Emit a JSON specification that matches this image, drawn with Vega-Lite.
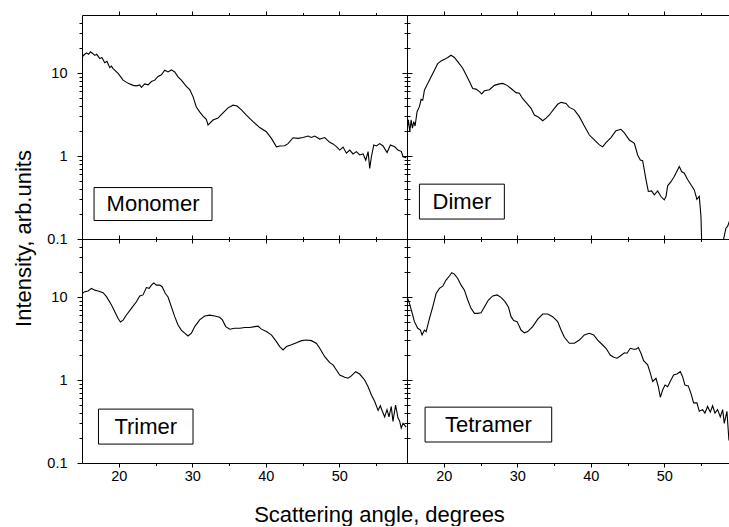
{
"$schema": "https://vega.github.io/schema/vega-lite/v6.json",
"autosize": {"type": "pad"},
"padding": {"left": 11, "top": 10, "right": 0, "bottom": 0},
"background": "white",
"config": {
  "view": {"stroke": "black", "strokeWidth": 1},
  "axis": {"grid": false, "domain": false, "tickColor": "black", "tickWidth": 1, "labelFont": "Liberation Sans", "labelFontSize": 14.5, "labelColor": "black", "titleFont": "Liberation Sans", "titleFontSize": 22, "titleFontWeight": "normal", "titleColor": "black"}
},
"datasets": {
  "monomer": [
{"a":15.02,"i":15.7},{"a":15.3,"i":16.6},{"a":15.61,"i":17.5},{"a":15.9,"i":16.8},{"a":16.15,"i":18},{"a":16.45,"i":17.2},{"a":16.74,"i":16.3},{"a":17.0,"i":16.8},{"a":17.42,"i":14.9},{"a":17.7,"i":15.4},{"a":18.10,"i":13.3},{"a":18.4,"i":13.8},{"a":18.78,"i":11.6},{"a":19.0,"i":12.1},{"a":19.23,"i":11.3},{"a":19.91,"i":9.9},{"a":20.59,"i":8.2},{"a":21.27,"i":7.5},{"a":21.95,"i":7.1},{"a":22.40,"i":7.0},{"a":22.85,"i":7.2},{"a":23.08,"i":6.7},{"a":23.53,"i":7.4},{"a":23.99,"i":7.2},{"a":24.44,"i":7.9},{"a":24.89,"i":8.2},{"a":25.34,"i":9.1},{"a":25.80,"i":9.5},{"a":26.25,"i":10.8},{"a":26.70,"i":10.3},{"a":27.16,"i":10.9},{"a":27.61,"i":10.3},{"a":28.06,"i":9.0},{"a":28.51,"i":8.2},{"a":29.19,"i":6.9},{"a":29.65,"i":6.3},{"a":30.10,"i":5.2},{"a":30.55,"i":3.9},{"a":31.00,"i":3.4},{"a":31.46,"i":3.03},{"a":31.91,"i":2.76},{"a":32.14,"i":2.37},{"a":32.82,"i":2.71},{"a":33.50,"i":2.86},{"a":34.18,"i":3.3},{"a":34.86,"i":3.8},{"a":35.54,"i":4.1},{"a":36.09,"i":4.0},{"a":36.68,"i":3.6},{"a":37.36,"i":3.1},{"a":38.26,"i":2.6},{"a":39.17,"i":2.2},{"a":40.07,"i":1.96},{"a":40.76,"i":1.63},{"a":41.44,"i":1.29},{"a":41.89,"i":1.32},{"a":42.57,"i":1.33},{"a":43.02,"i":1.41},{"a":43.70,"i":1.66},{"a":44.38,"i":1.63},{"a":45.06,"i":1.67},{"a":45.74,"i":1.74},{"a":46.19,"i":1.67},{"a":46.65,"i":1.74},{"a":47.33,"i":1.6},{"a":48.01,"i":1.67},{"a":48.69,"i":1.46},{"a":49.14,"i":1.4},{"a":49.60,"i":1.3},{"a":50.05,"i":1.18},{"a":50.50,"i":1.28},{"a":50.96,"i":1.08},{"a":51.41,"i":1.18},{"a":51.86,"i":1.06},{"a":52.32,"i":1.13},{"a":52.77,"i":1.03},{"a":53.23,"i":1.06},{"a":53.59,"i":0.89},{"a":53.91,"i":1.13},{"a":54.13,"i":0.71},{"a":54.36,"i":0.98},{"a":54.68,"i":1.36},{"a":55.04,"i":1.32},{"a":55.49,"i":1.41},{"a":55.94,"i":1.32},{"a":56.49,"i":1.1},{"a":56.94,"i":1.36},{"a":57.53,"i":1.29},{"a":57.98,"i":1.18},{"a":58.44,"i":1.13},{"a":58.66,"i":0.98},{"a":59.1,"i":0.95}
  ],
  "dimer": [
{"a":15.01,"i":2.06},{"a":15.19,"i":2.72},{"a":15.38,"i":1.96},{"a":15.56,"i":2.72},{"a":15.74,"i":2.16},{"a":15.92,"i":2.6},{"a":16.10,"i":2.3},{"a":16.37,"i":3.42},{"a":16.69,"i":3.93},{"a":16.92,"i":4.81},{"a":17.14,"i":4.7},{"a":17.37,"i":6.2},{"a":17.82,"i":7.5},{"a":18.28,"i":9.0},{"a":18.73,"i":10.8},{"a":19.18,"i":13.0},{"a":19.64,"i":14.0},{"a":20.09,"i":14.6},{"a":20.54,"i":15.4},{"a":20.99,"i":16.4},{"a":21.45,"i":15.4},{"a":21.90,"i":13.7},{"a":22.58,"i":11.4},{"a":23.03,"i":9.5},{"a":23.49,"i":7.9},{"a":23.94,"i":6.5},{"a":24.39,"i":6.4},{"a":24.85,"i":5.96},{"a":25.16,"i":5.6},{"a":25.53,"i":6.1},{"a":26.21,"i":6.3},{"a":26.88,"i":7.1},{"a":27.56,"i":7.4},{"a":28.02,"i":7.5},{"a":28.61,"i":7.1},{"a":29.15,"i":6.5},{"a":29.83,"i":5.8},{"a":30.28,"i":5.7},{"a":30.74,"i":4.9},{"a":31.42,"i":4.2},{"a":31.87,"i":3.75},{"a":32.32,"i":3.12},{"a":32.78,"i":2.98},{"a":33.23,"i":2.77},{"a":33.46,"i":2.66},{"a":33.91,"i":2.86},{"a":34.36,"i":3.12},{"a":35.04,"i":3.75},{"a":35.49,"i":4.2},{"a":35.95,"i":4.43},{"a":36.63,"i":4.3},{"a":37.08,"i":3.85},{"a":37.76,"i":3.6},{"a":38.44,"i":2.98},{"a":39.12,"i":2.3},{"a":39.80,"i":1.79},{"a":40.48,"i":1.56},{"a":41.16,"i":1.36},{"a":41.61,"i":1.29},{"a":42.06,"i":1.45},{"a":42.74,"i":1.67},{"a":43.42,"i":2.02},{"a":44.10,"i":2.1},{"a":44.56,"i":1.9},{"a":45.24,"i":1.56},{"a":45.92,"i":1.42},{"a":46.37,"i":1.03},{"a":46.73,"i":0.897},{"a":47.05,"i":0.88},{"a":47.50,"i":0.52},{"a":47.82,"i":0.374},{"a":48.27,"i":0.38},{"a":48.63,"i":0.34},{"a":49.09,"i":0.38},{"a":49.54,"i":0.325},{"a":49.99,"i":0.296},{"a":50.22,"i":0.325},{"a":50.45,"i":0.437},{"a":50.90,"i":0.49},{"a":51.35,"i":0.565},{"a":52.03,"i":0.745},{"a":52.35,"i":0.65},{"a":52.71,"i":0.62},{"a":53.16,"i":0.52},{"a":53.62,"i":0.45},{"a":54.07,"i":0.39},{"a":54.43,"i":0.30},{"a":54.75,"i":0.325},{"a":54.98,"i":0.187},{"a":55.16,"i":0.05},{"a":56.34,"i":0.04},{"a":57.70,"i":0.05},{"a":58.06,"i":0.1},{"a":58.37,"i":0.135},{"a":58.60,"i":0.142},{"a":58.92,"i":0.17},{"a":59.2,"i":0.19}
  ],
  "trimer": [
{"a":15.02,"i":11.0},{"a":15.38,"i":11.6},{"a":15.83,"i":11.8},{"a":16.29,"i":12.7},{"a":16.74,"i":12.1},{"a":17.19,"i":11.8},{"a":17.87,"i":11.3},{"a":18.33,"i":10.1},{"a":19.01,"i":8.0},{"a":19.46,"i":6.65},{"a":19.91,"i":5.5},{"a":20.23,"i":5.0},{"a":20.59,"i":5.27},{"a":21.04,"i":6.07},{"a":21.72,"i":7.3},{"a":22.40,"i":8.77},{"a":22.85,"i":10.3},{"a":23.30,"i":10.6},{"a":23.76,"i":13.0},{"a":24.13,"i":12.7},{"a":24.44,"i":13.9},{"a":24.76,"i":14.8},{"a":25.12,"i":13.9},{"a":25.57,"i":13.9},{"a":25.89,"i":13.3},{"a":26.34,"i":11.0},{"a":26.70,"i":10.0},{"a":27.16,"i":7.6},{"a":27.61,"i":5.8},{"a":28.06,"i":4.6},{"a":28.51,"i":4.0},{"a":28.97,"i":3.67},{"a":29.42,"i":3.39},{"a":29.88,"i":3.67},{"a":30.33,"i":4.4},{"a":31.00,"i":5.3},{"a":31.69,"i":5.9},{"a":32.37,"i":6.05},{"a":33.05,"i":5.9},{"a":33.73,"i":5.7},{"a":34.09,"i":5.3},{"a":34.55,"i":4.4},{"a":35.09,"i":4.09},{"a":35.77,"i":4.2},{"a":36.45,"i":4.2},{"a":37.13,"i":4.3},{"a":37.81,"i":4.3},{"a":38.49,"i":4.4},{"a":38.94,"i":4.45},{"a":39.40,"i":4.1},{"a":40.07,"i":3.83},{"a":40.76,"i":3.5},{"a":41.44,"i":2.9},{"a":41.89,"i":2.53},{"a":42.35,"i":2.3},{"a":42.80,"i":2.53},{"a":43.49,"i":2.66},{"a":44.17,"i":2.82},{"a":44.85,"i":2.98},{"a":45.53,"i":3.03},{"a":46.21,"i":2.98},{"a":46.89,"i":2.76},{"a":47.33,"i":2.41},{"a":48.01,"i":1.91},{"a":48.69,"i":1.62},{"a":49.14,"i":1.52},{"a":49.60,"i":1.32},{"a":50.05,"i":1.15},{"a":50.73,"i":1.08},{"a":51.18,"i":1.05},{"a":51.63,"i":1.12},{"a":52.22,"i":1.26},{"a":52.76,"i":1.18},{"a":53.44,"i":1.0},{"a":53.91,"i":0.83},{"a":54.36,"i":0.66},{"a":54.81,"i":0.55},{"a":55.27,"i":0.43},{"a":55.57,"i":0.49},{"a":55.85,"i":0.42},{"a":56.16,"i":0.36},{"a":56.48,"i":0.44},{"a":56.75,"i":0.36},{"a":57.06,"i":0.48},{"a":57.29,"i":0.317},{"a":57.65,"i":0.50},{"a":57.97,"i":0.35},{"a":58.20,"i":0.32},{"a":58.42,"i":0.264},{"a":58.66,"i":0.30},{"a":59.1,"i":0.27}
  ],
  "tetramer": [
{"a":15.01,"i":10.1},{"a":15.33,"i":8.4},{"a":15.65,"i":6.65},{"a":16.01,"i":5.05},{"a":16.46,"i":4.2},{"a":16.83,"i":4.0},{"a":17.05,"i":3.49},{"a":17.37,"i":4.0},{"a":17.60,"i":3.83},{"a":18.05,"i":5.5},{"a":18.50,"i":7.6},{"a":18.96,"i":11.0},{"a":19.41,"i":12.7},{"a":19.86,"i":13.5},{"a":20.31,"i":16.0},{"a":20.77,"i":17.9},{"a":21.09,"i":19.6},{"a":21.45,"i":18.9},{"a":21.90,"i":16.7},{"a":22.36,"i":13.9},{"a":22.81,"i":12.1},{"a":23.26,"i":9.2},{"a":23.71,"i":7.3},{"a":24.17,"i":6.35},{"a":24.62,"i":6.35},{"a":25.07,"i":6.45},{"a":25.53,"i":7.6},{"a":26.07,"i":9.2},{"a":26.66,"i":10.3},{"a":27.25,"i":10.6},{"a":27.79,"i":9.9},{"a":28.33,"i":8.8},{"a":28.79,"i":7.6},{"a":29.15,"i":5.8},{"a":29.51,"i":5.2},{"a":29.97,"i":5.05},{"a":30.51,"i":4.0},{"a":30.96,"i":3.7},{"a":31.42,"i":3.83},{"a":32.09,"i":4.4},{"a":32.78,"i":5.4},{"a":33.46,"i":6.24},{"a":34.13,"i":6.24},{"a":34.81,"i":5.8},{"a":35.49,"i":5.05},{"a":35.95,"i":4.0},{"a":36.40,"i":3.27},{"a":37.08,"i":2.77},{"a":37.76,"i":2.77},{"a":38.44,"i":3.03},{"a":39.12,"i":3.49},{"a":39.80,"i":3.66},{"a":40.39,"i":3.49},{"a":40.93,"i":3.03},{"a":41.61,"i":2.64},{"a":42.06,"i":2.41},{"a":42.65,"i":2.0},{"a":43.11,"i":1.88},{"a":43.56,"i":1.83},{"a":44.01,"i":1.95},{"a":44.56,"i":2.13},{"a":44.92,"i":2.1},{"a":45.37,"i":2.41},{"a":45.82,"i":2.35},{"a":46.14,"i":2.35},{"a":46.46,"i":2.46},{"a":46.82,"i":2.1},{"a":47.18,"i":1.71},{"a":47.73,"i":1.52},{"a":48.09,"i":1.21},{"a":48.41,"i":0.96},{"a":48.86,"i":1.05},{"a":49.18,"i":0.83},{"a":49.45,"i":0.62},{"a":49.77,"i":0.76},{"a":50.09,"i":0.87},{"a":50.45,"i":0.83},{"a":50.90,"i":1.0},{"a":51.26,"i":1.15},{"a":51.71,"i":1.18},{"a":52.17,"i":1.26},{"a":52.48,"i":1.1},{"a":52.80,"i":0.87},{"a":53.25,"i":0.85},{"a":53.62,"i":0.69},{"a":53.98,"i":0.53},{"a":54.43,"i":0.53},{"a":54.75,"i":0.42},{"a":55.20,"i":0.44},{"a":55.52,"i":0.40},{"a":55.88,"i":0.48},{"a":56.25,"i":0.41},{"a":56.56,"i":0.49},{"a":56.88,"i":0.40},{"a":57.24,"i":0.44},{"a":57.61,"i":0.36},{"a":57.93,"i":0.44},{"a":58.15,"i":0.30},{"a":58.51,"i":0.42},{"a":58.78,"i":0.19},{"a":59.1,"i":0.17}
  ]
},
"concat": [
  {
    "width": 325, "height": 224,
    "layer": [
      {"data": {"name": "monomer"}, "mark": {"type": "line", "clip": true, "color": "black", "strokeWidth": 1.1},
       "encoding": {
         "x": {"field": "a", "type": "quantitative", "scale": {"domain": [15, 59.2], "nice": false, "zero": false}, "axis": {"orient": "bottom", "values": [20, 30, 40, 50], "tickSize": 4, "labels": false, "title": null}},
         "y": {"field": "i", "type": "quantitative", "scale": {"type": "log", "domain": [0.1, 50], "nice": false}, "axis": {"orient": "left", "values": [0.1, 1, 10], "format": "~g", "tickSize": 5, "labelPadding": 10, "title": "Intensity, arb.units", "titleX": -52, "titleY": 223, "titleAngle": -90, "titleAlign": "center", "titleBaseline": "alphabetic"}}}},
      {"data": {"values": [{"label": "Monomer", "x1": 16.64, "x2": 32.68, "y1": 0.167, "y2": 0.417}]},
       "mark": {"type": "rect", "fill": "white", "stroke": "black", "strokeWidth": 1},
       "encoding": {
         "x": {"field": "x1", "type": "quantitative", "scale": {"domain": [15, 59.2], "nice": false, "zero": false}, "axis": {"orient": "bottom", "values": [25, 35, 45, 55], "tickSize": 2.5, "labels": false, "title": null}},
         "x2": {"field": "x2"},
         "y": {"field": "y1", "type": "quantitative", "scale": {"type": "log", "domain": [0.1, 50], "nice": false}, "axis": {"orient": "left", "values": [0.2,0.3,0.4,0.5,0.6,0.7,0.8,0.9,2,3,4,5,6,7,8,9,20,30,40], "tickSize": 3, "labels": false, "title": null}},
         "y2": {"field": "y2"}}},
      {"data": {"values": [{"label": "Monomer", "xm": 24.66, "ym": 0.264}]},
       "mark": {"type": "text", "font": "Liberation Sans", "fontSize": 22, "color": "black", "align": "center", "baseline": "middle"},
       "encoding": {
         "x": {"field": "xm", "type": "quantitative", "scale": {"domain": [15, 59.2], "nice": false, "zero": false}, "axis": {"orient": "top", "values": [20, 30, 40, 50], "tickSize": 4, "labels": false, "title": null}},
         "y": {"field": "ym", "type": "quantitative", "scale": {"type": "log", "domain": [0.1, 50], "nice": false}, "axis": {"orient": "right", "values": [0.1, 1, 10], "tickSize": 5, "labels": false, "title": null}},
         "text": {"field": "label"}}},
      {"data": {"values": [{"xm": 24.66, "ym": 0.264}]},
       "mark": {"type": "point", "opacity": 0},
       "encoding": {
         "x": {"field": "xm", "type": "quantitative", "scale": {"domain": [15, 59.2], "nice": false, "zero": false}, "axis": {"orient": "top", "values": [25, 35, 45, 55], "tickSize": 2.5, "labels": false, "title": null}},
         "y": {"field": "ym", "type": "quantitative", "scale": {"type": "log", "domain": [0.1, 50], "nice": false}, "axis": {"orient": "right", "values": [0.2,0.3,0.4,0.5,0.6,0.7,0.8,0.9,2,3,4,5,6,7,8,9,20,30,40], "tickSize": 3, "labels": false, "title": null}}}}
    ],
    "resolve": {"axis": {"x": "independent", "y": "independent"}}
  },
  {
    "width": 325, "height": 224,
    "layer": [
      {"data": {"name": "dimer"}, "mark": {"type": "line", "clip": true, "color": "black", "strokeWidth": 1.1},
       "encoding": {
         "x": {"field": "a", "type": "quantitative", "scale": {"domain": [15, 59.2], "nice": false, "zero": false}, "axis": {"orient": "bottom", "values": [20, 30, 40, 50], "tickSize": 4, "labels": false, "title": null}},
         "y": {"field": "i", "type": "quantitative", "scale": {"type": "log", "domain": [0.1, 50], "nice": false}, "axis": {"orient": "left", "values": [0.1, 1, 10], "tickSize": 5, "labels": false, "title": null}}}},
      {"data": {"values": [{"label": "Dimer", "x1": 16.69, "x2": 28.24, "y1": 0.174, "y2": 0.458}]},
       "mark": {"type": "rect", "fill": "white", "stroke": "black", "strokeWidth": 1},
       "encoding": {
         "x": {"field": "x1", "type": "quantitative", "scale": {"domain": [15, 59.2], "nice": false, "zero": false}, "axis": {"orient": "bottom", "values": [25, 35, 45, 55], "tickSize": 2.5, "labels": false, "title": null}},
         "x2": {"field": "x2"},
         "y": {"field": "y1", "type": "quantitative", "scale": {"type": "log", "domain": [0.1, 50], "nice": false}, "axis": {"orient": "left", "values": [0.2,0.3,0.4,0.5,0.6,0.7,0.8,0.9,2,3,4,5,6,7,8,9,20,30,40], "tickSize": 3, "labels": false, "title": null}},
         "y2": {"field": "y2"}}},
      {"data": {"values": [{"label": "Dimer", "xm": 22.47, "ym": 0.282}]},
       "mark": {"type": "text", "font": "Liberation Sans", "fontSize": 22, "color": "black", "align": "center", "baseline": "middle"},
       "encoding": {
         "x": {"field": "xm", "type": "quantitative", "scale": {"domain": [15, 59.2], "nice": false, "zero": false}, "axis": {"orient": "top", "values": [20, 30, 40, 50], "tickSize": 4, "labels": false, "title": null}},
         "y": {"field": "ym", "type": "quantitative", "scale": {"type": "log", "domain": [0.1, 50], "nice": false}, "axis": {"orient": "right", "values": [0.1, 1, 10], "tickSize": 5, "labels": false, "title": null}},
         "text": {"field": "label"}}},
      {"data": {"values": [{"xm": 22.47, "ym": 0.282}]},
       "mark": {"type": "point", "opacity": 0},
       "encoding": {
         "x": {"field": "xm", "type": "quantitative", "scale": {"domain": [15, 59.2], "nice": false, "zero": false}, "axis": {"orient": "top", "values": [25, 35, 45, 55], "tickSize": 2.5, "labels": false, "title": null}},
         "y": {"field": "ym", "type": "quantitative", "scale": {"type": "log", "domain": [0.1, 50], "nice": false}, "axis": {"orient": "right", "values": [0.2,0.3,0.4,0.5,0.6,0.7,0.8,0.9,2,3,4,5,6,7,8,9,20,30,40], "tickSize": 3, "labels": false, "title": null}}}}
    ],
    "resolve": {"axis": {"x": "independent", "y": "independent"}}
  },
  {
    "width": 325, "height": 224,
    "layer": [
      {"data": {"name": "trimer"}, "mark": {"type": "line", "clip": true, "color": "black", "strokeWidth": 1.1},
       "encoding": {
         "x": {"field": "a", "type": "quantitative", "scale": {"domain": [15, 59.2], "nice": false, "zero": false}, "axis": {"orient": "bottom", "values": [20, 30, 40, 50], "format": "d", "tickSize": 4, "labelPadding": 2, "title": "Scattering angle, degrees", "titleX": 297, "titleY": 58, "titleAlign": "center", "titleBaseline": "alphabetic"}},
         "y": {"field": "i", "type": "quantitative", "scale": {"type": "log", "domain": [0.1, 50], "nice": false}, "axis": {"orient": "left", "values": [0.1, 1, 10], "format": "~g", "tickSize": 5, "labelPadding": 10, "title": null}}}},
      {"data": {"values": [{"label": "Trimer", "x1": 17.24, "x2": 30.1, "y1": 0.169, "y2": 0.446}]},
       "mark": {"type": "rect", "fill": "white", "stroke": "black", "strokeWidth": 1},
       "encoding": {
         "x": {"field": "x1", "type": "quantitative", "scale": {"domain": [15, 59.2], "nice": false, "zero": false}, "axis": {"orient": "bottom", "values": [25, 35, 45, 55], "tickSize": 2.5, "labels": false, "title": null}},
         "x2": {"field": "x2"},
         "y": {"field": "y1", "type": "quantitative", "scale": {"type": "log", "domain": [0.1, 50], "nice": false}, "axis": {"orient": "left", "values": [0.2,0.3,0.4,0.5,0.6,0.7,0.8,0.9,2,3,4,5,6,7,8,9,20,30,40], "tickSize": 3, "labels": false, "title": null}},
         "y2": {"field": "y2"}}},
      {"data": {"values": [{"label": "Trimer", "xm": 23.67, "ym": 0.2745}]},
       "mark": {"type": "text", "font": "Liberation Sans", "fontSize": 22, "color": "black", "align": "center", "baseline": "middle"},
       "encoding": {
         "x": {"field": "xm", "type": "quantitative", "scale": {"domain": [15, 59.2], "nice": false, "zero": false}, "axis": {"orient": "top", "values": [20, 30, 40, 50], "tickSize": 4, "labels": false, "title": null}},
         "y": {"field": "ym", "type": "quantitative", "scale": {"type": "log", "domain": [0.1, 50], "nice": false}, "axis": {"orient": "right", "values": [0.1, 1, 10], "tickSize": 5, "labels": false, "title": null}},
         "text": {"field": "label"}}},
      {"data": {"values": [{"xm": 23.67, "ym": 0.2745}]},
       "mark": {"type": "point", "opacity": 0},
       "encoding": {
         "x": {"field": "xm", "type": "quantitative", "scale": {"domain": [15, 59.2], "nice": false, "zero": false}, "axis": {"orient": "top", "values": [25, 35, 45, 55], "tickSize": 2.5, "labels": false, "title": null}},
         "y": {"field": "ym", "type": "quantitative", "scale": {"type": "log", "domain": [0.1, 50], "nice": false}, "axis": {"orient": "right", "values": [0.2,0.3,0.4,0.5,0.6,0.7,0.8,0.9,2,3,4,5,6,7,8,9,20,30,40], "tickSize": 3, "labels": false, "title": null}}}}
    ],
    "resolve": {"axis": {"x": "independent", "y": "independent"}}
  },
  {
    "width": 325, "height": 224,
    "layer": [
      {"data": {"name": "tetramer"}, "mark": {"type": "line", "clip": true, "color": "black", "strokeWidth": 1.1},
       "encoding": {
         "x": {"field": "a", "type": "quantitative", "scale": {"domain": [15, 59.2], "nice": false, "zero": false}, "axis": {"orient": "bottom", "values": [20, 30, 40, 50], "format": "d", "tickSize": 4, "labelPadding": 2, "title": null}},
         "y": {"field": "i", "type": "quantitative", "scale": {"type": "log", "domain": [0.1, 50], "nice": false}, "axis": {"orient": "left", "values": [0.1, 1, 10], "tickSize": 5, "labels": false, "title": null}}}},
      {"data": {"values": [{"label": "Tetramer", "x1": 17.46, "x2": 34.68, "y1": 0.179, "y2": 0.471}]},
       "mark": {"type": "rect", "fill": "white", "stroke": "black", "strokeWidth": 1},
       "encoding": {
         "x": {"field": "x1", "type": "quantitative", "scale": {"domain": [15, 59.2], "nice": false, "zero": false}, "axis": {"orient": "bottom", "values": [25, 35, 45, 55], "tickSize": 2.5, "labels": false, "title": null}},
         "x2": {"field": "x2"},
         "y": {"field": "y1", "type": "quantitative", "scale": {"type": "log", "domain": [0.1, 50], "nice": false}, "axis": {"orient": "left", "values": [0.2,0.3,0.4,0.5,0.6,0.7,0.8,0.9,2,3,4,5,6,7,8,9,20,30,40], "tickSize": 3, "labels": false, "title": null}},
         "y2": {"field": "y2"}}},
      {"data": {"values": [{"label": "Tetramer", "xm": 26.07, "ym": 0.290}]},
       "mark": {"type": "text", "font": "Liberation Sans", "fontSize": 22, "color": "black", "align": "center", "baseline": "middle"},
       "encoding": {
         "x": {"field": "xm", "type": "quantitative", "scale": {"domain": [15, 59.2], "nice": false, "zero": false}, "axis": {"orient": "top", "values": [20, 30, 40, 50], "tickSize": 4, "labels": false, "title": null}},
         "y": {"field": "ym", "type": "quantitative", "scale": {"type": "log", "domain": [0.1, 50], "nice": false}, "axis": {"orient": "right", "values": [0.1, 1, 10], "tickSize": 5, "labels": false, "title": null}},
         "text": {"field": "label"}}},
      {"data": {"values": [{"xm": 26.07, "ym": 0.290}]},
       "mark": {"type": "point", "opacity": 0},
       "encoding": {
         "x": {"field": "xm", "type": "quantitative", "scale": {"domain": [15, 59.2], "nice": false, "zero": false}, "axis": {"orient": "top", "values": [25, 35, 45, 55], "tickSize": 2.5, "labels": false, "title": null}},
         "y": {"field": "ym", "type": "quantitative", "scale": {"type": "log", "domain": [0.1, 50], "nice": false}, "axis": {"orient": "right", "values": [0.2,0.3,0.4,0.5,0.6,0.7,0.8,0.9,2,3,4,5,6,7,8,9,20,30,40], "tickSize": 3, "labels": false, "title": null}}}}
    ],
    "resolve": {"axis": {"x": "independent", "y": "independent"}}
  }
],
"columns": 2,
"spacing": 0,
"bounds": "flush"
}
